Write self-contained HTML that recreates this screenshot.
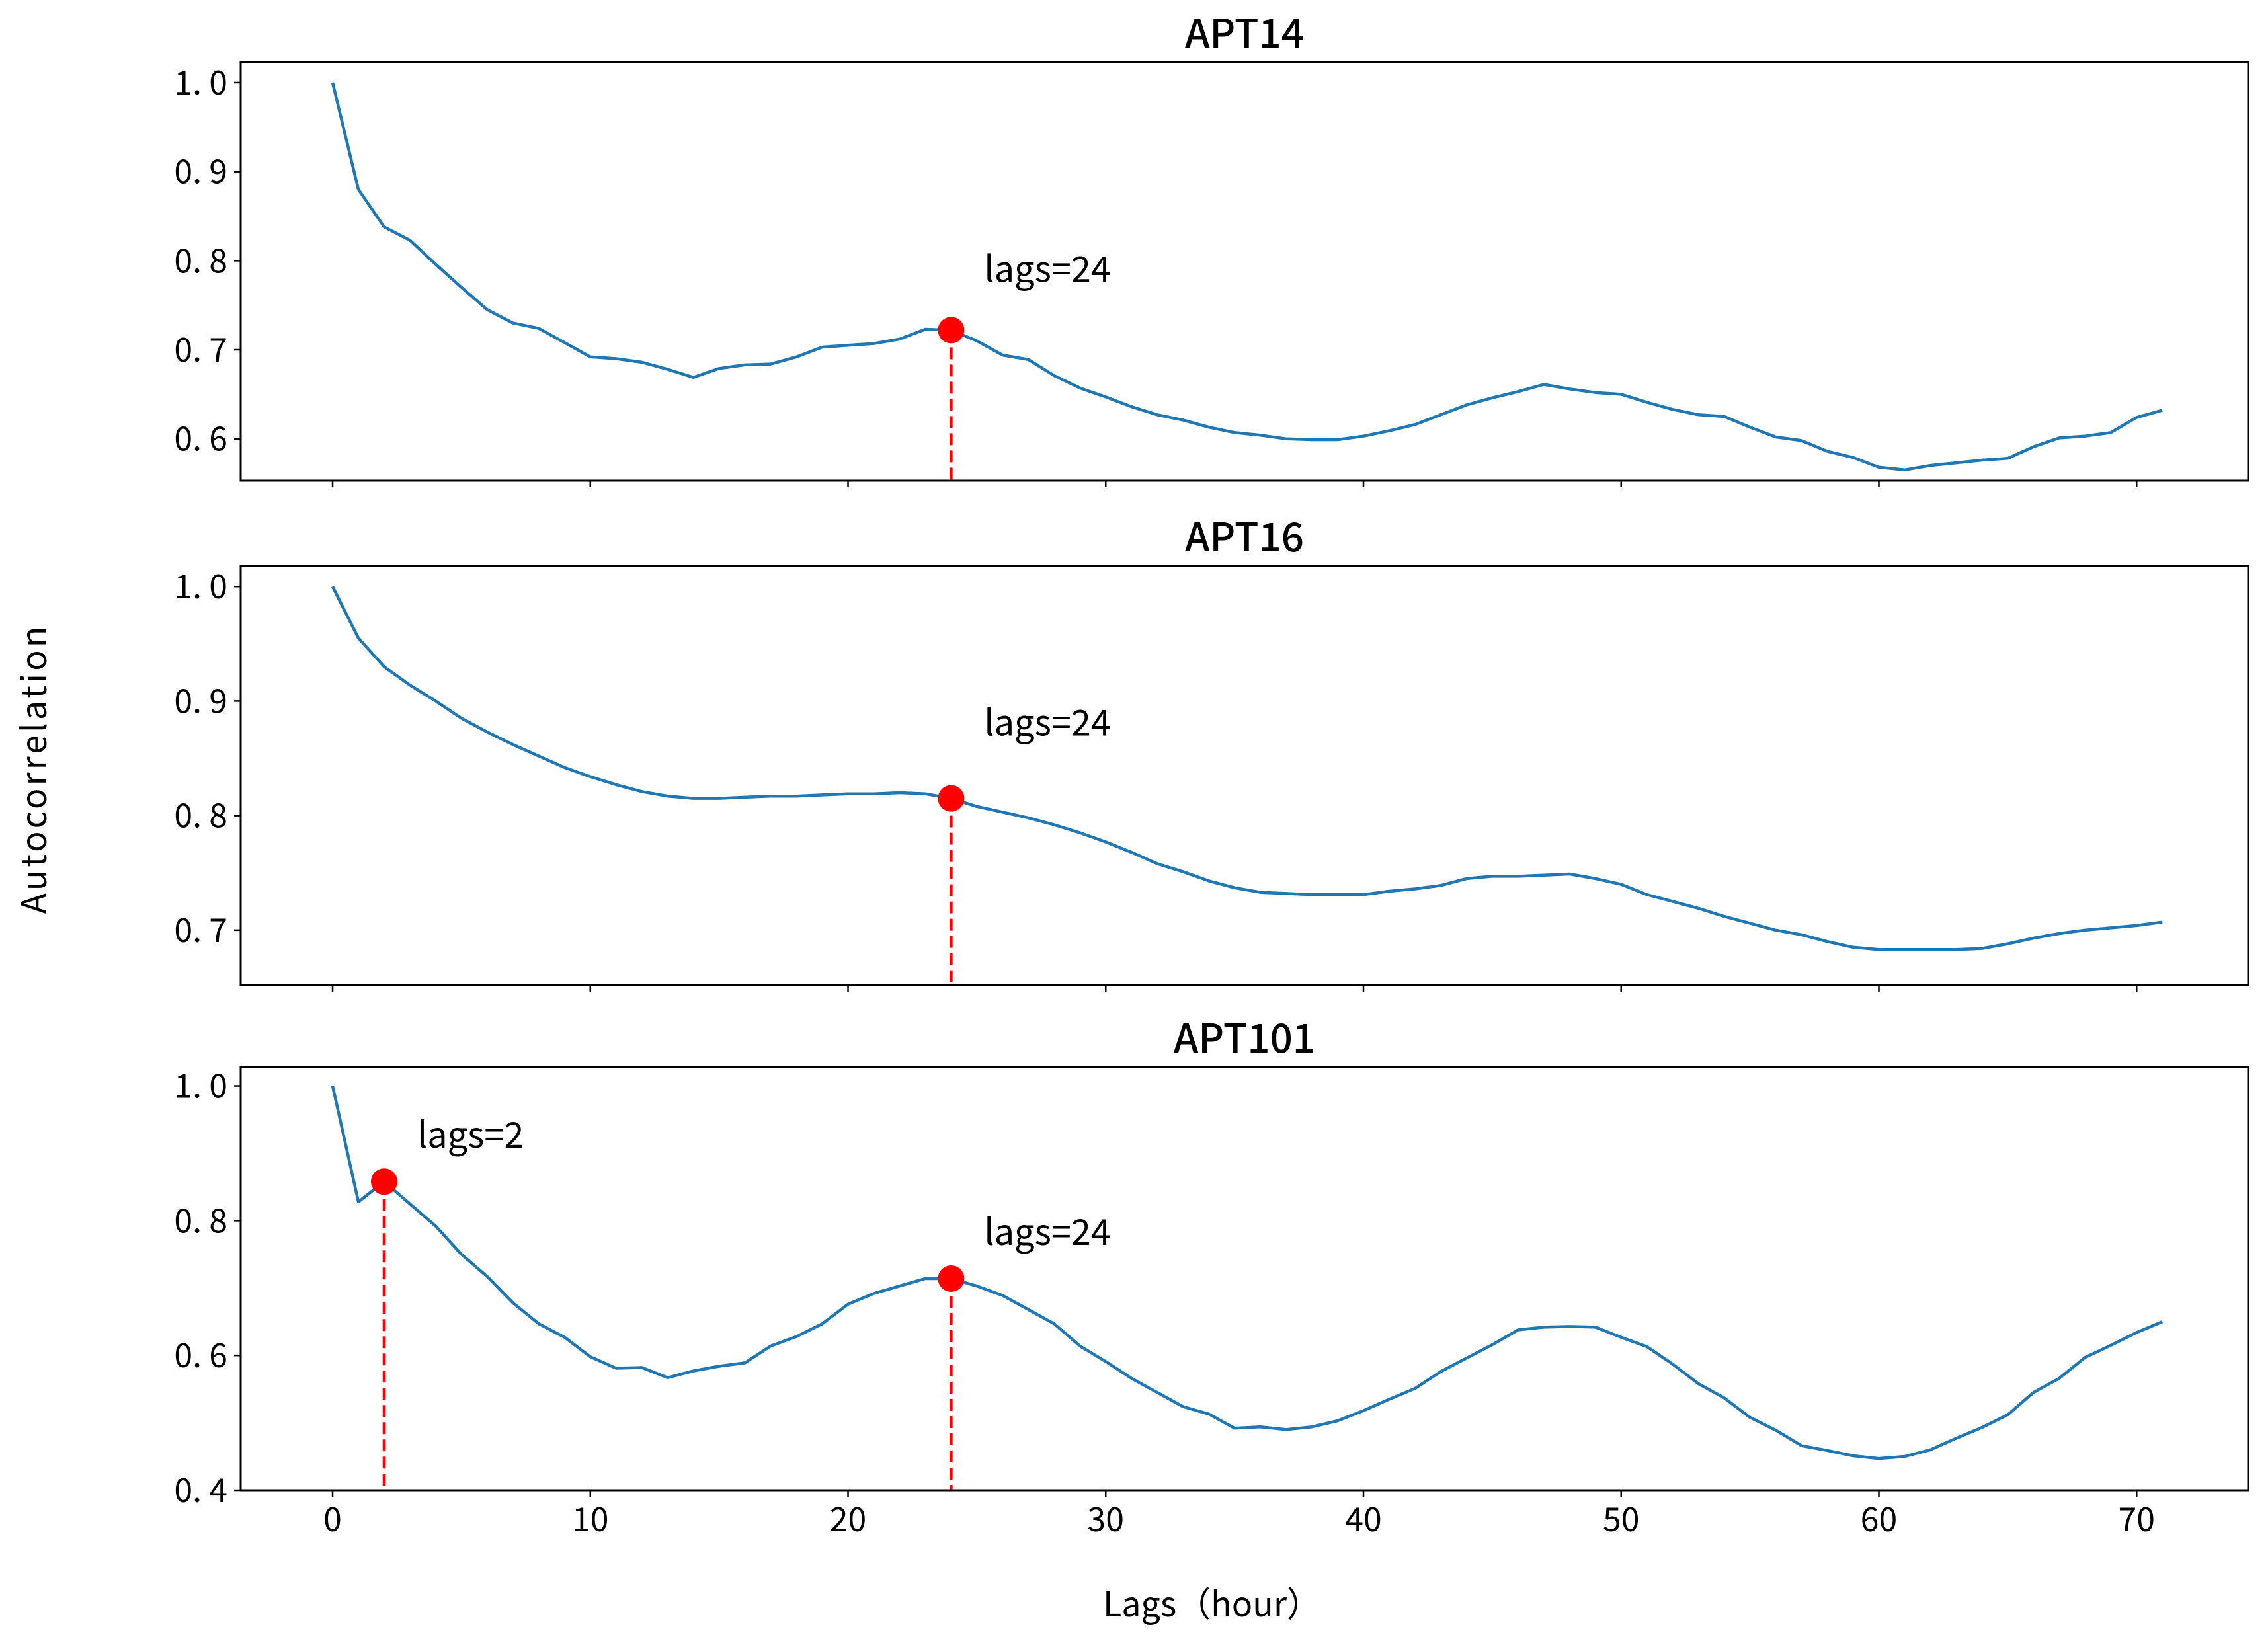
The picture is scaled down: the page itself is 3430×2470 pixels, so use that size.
<!DOCTYPE html>
<html><head><meta charset="utf-8"><style>
html,body{margin:0;padding:0;background:#fff;}
svg{display:block;font-family:"WenQuanYi Zen Hei","Noto Sans CJK SC","Liberation Sans",sans-serif;}
</style></head><body>
<svg id="chart" width="3430" height="2470" viewBox="0 0 3430 2470" xmlns="http://www.w3.org/2000/svg"></svg>
<script>
const lags = Array.from({length:72},(_,i)=>i);
const apt14 = [1.0,0.88,0.838,0.823,0.796,0.77,0.745,0.73,0.724,0.708,0.692,0.69,0.686,0.678,0.669,0.679,0.683,0.684,0.692,0.703,0.705,0.707,0.712,0.723,0.722,0.71,0.694,0.689,0.671,0.657,0.647,0.636,0.627,0.621,0.613,0.607,0.604,0.6,0.599,0.599,0.603,0.609,0.616,0.627,0.638,0.646,0.653,0.661,0.656,0.652,0.65,0.641,0.633,0.627,0.625,0.613,0.602,0.598,0.586,0.579,0.568,0.565,0.57,0.573,0.576,0.578,0.591,0.601,0.603,0.607,0.624,0.632];
const apt16 = [1.0,0.955,0.93,0.914,0.9,0.885,0.873,0.862,0.852,0.842,0.834,0.827,0.821,0.817,0.815,0.815,0.816,0.817,0.817,0.818,0.819,0.819,0.82,0.819,0.815,0.808,0.803,0.798,0.792,0.785,0.777,0.768,0.758,0.751,0.743,0.737,0.733,0.732,0.731,0.731,0.731,0.734,0.736,0.739,0.745,0.747,0.747,0.748,0.749,0.745,0.74,0.731,0.725,0.719,0.712,0.706,0.7,0.696,0.69,0.685,0.683,0.683,0.683,0.683,0.684,0.688,0.693,0.697,0.7,0.702,0.704,0.707];
const apt101 = [1.0,0.828,0.858,0.825,0.792,0.75,0.717,0.678,0.647,0.627,0.598,0.581,0.582,0.567,0.577,0.584,0.589,0.614,0.628,0.647,0.676,0.692,0.703,0.714,0.714,0.703,0.689,0.668,0.647,0.614,0.591,0.566,0.545,0.524,0.513,0.492,0.494,0.49,0.494,0.503,0.518,0.535,0.551,0.576,0.596,0.616,0.638,0.642,0.643,0.642,0.627,0.613,0.587,0.558,0.537,0.508,0.489,0.466,0.459,0.451,0.447,0.45,0.46,0.477,0.493,0.512,0.545,0.566,0.597,0.615,0.634,0.65];
const titles = ["APT14","APT16","APT101"];
const series = [apt14, apt16, apt101];
const yTicks14 = [0.6,0.7,0.8,0.9,1.0];
const yTicks16 = [0.7,0.8,0.9,1.0];
const yTicks101 = [0.4,0.6,0.8,1.0];
const yTickLabels14 = ["0. 6","0. 7","0. 8","0. 9","1. 0"];
const yTickLabels16 = ["0. 7","0. 8","0. 9","1. 0"];
const yTickLabels101 = ["0. 4","0. 6","0. 8","1. 0"];
const xTicks = [0,10,20,30,40,50,60,70];
const peaks14 = [24], peaks16 = [24], peaks101 = [2,24];

const NS="http://www.w3.org/2000/svg";
const svg=document.getElementById('chart');
function mk(tag,attrs,parent){const e=document.createElementNS(NS,tag);for(const k in attrs)e.setAttribute(k,attrs[k]);(parent||svg).appendChild(e);return e;}

const L=364,R=3400;
const xMin=-3.567, xMax=74.33;
const xs=v=>L+(v-xMin)/(xMax-xMin)*(R-L);
const panels=[
 {top:94,bot:727,ymin:0.553,ymax:1.023,ticks:yTicks14,labels:yTickLabels14,peaks:peaks14,name:'apt14',off:73},
 {top:856,bot:1490,ymin:0.652,ymax:1.018,ticks:yTicks16,labels:yTickLabels16,peaks:peaks16,name:'apt16',off:95},
 {top:1614,bot:2254,ymin:0.4,ymax:1.028,ticks:yTicks101,labels:yTickLabels101,peaks:peaks101,name:'apt101',off:51}
];
panels.forEach((p,pi)=>{
  const ys=v=>p.bot-(v-p.ymin)/(p.ymax-p.ymin)*(p.bot-p.top);
  const g=mk('g',{});
  
  
  const t=mk('text',{x:(L+R)/2,y:p.top-22,'text-anchor':'middle','font-size':60,fill:'#000','font-weight':'500'},g);
  t.textContent=titles[pi];
  
  
  p.ticks.forEach((v,i)=>{
    const ln=mk('line',{x1:L-10,x2:L,y1:ys(v),y2:ys(v),stroke:'#000','stroke-width':2.5},g);
    
    
    const tx=mk('text',{x:L-20,y:ys(v)+18,'text-anchor':'end','font-size':50,fill:'#000'},g);
    tx.textContent=p.labels[i];
    
    
  });
  xTicks.forEach(v=>{
    const ln=mk('line',{x1:xs(v),x2:xs(v),y1:p.bot,y2:p.bot+10,stroke:'#000','stroke-width':2.5},g);
    
    
    if(pi===2){
      const tx=mk('text',{x:xs(v),y:p.bot+62,'text-anchor':'middle','font-size':50,fill:'#000'},g);
      tx.textContent=String(v);
      
      
    }
  });
  const data=series[pi];
  const d=data.map((v,i)=>(i?'L':'M')+xs(lags[i]).toFixed(1)+' '+ys(v).toFixed(1)).join(' ');
  const path=mk('path',{d:d,fill:'none',stroke:'#1f77b4','stroke-width':4.5,'stroke-linejoin':'round'},g);
  
  
  p.peaks.forEach(k=>{
    const v=data[k];
    const dl=mk('line',{x1:xs(k),x2:xs(k),y1:ys(v),y2:p.bot,stroke:'#ff0000','stroke-width':4.5,'stroke-dasharray':'18 8'},g);
    
    
    const c=mk('circle',{cx:xs(k),cy:ys(v),r:20,fill:'#ff0000'},g);
    
    
    const tx=mk('text',{x:xs(k)+50,y:ys(v)-(k===2?51:p.off),'font-size':54,fill:'#000'},g);
    tx.textContent='lags='+k;
    
    
  });
  const fr=mk('rect',{x:L,y:p.top,width:R-L,height:p.bot-p.top,fill:'none',stroke:'#000','stroke-width':3},g);
  
  
});
const yl=mk('text',{x:0,y:0,'text-anchor':'middle','font-size':52,fill:'#000',transform:'translate(70,1163) rotate(-90)','letter-spacing':'4'});
yl.textContent='Autocorrelation';


const xl=mk('text',{x:1833,y:2445,'text-anchor':'middle','font-size':52,fill:'#000'});
xl.textContent='Lags（hour）';


</script>
</body></html>
